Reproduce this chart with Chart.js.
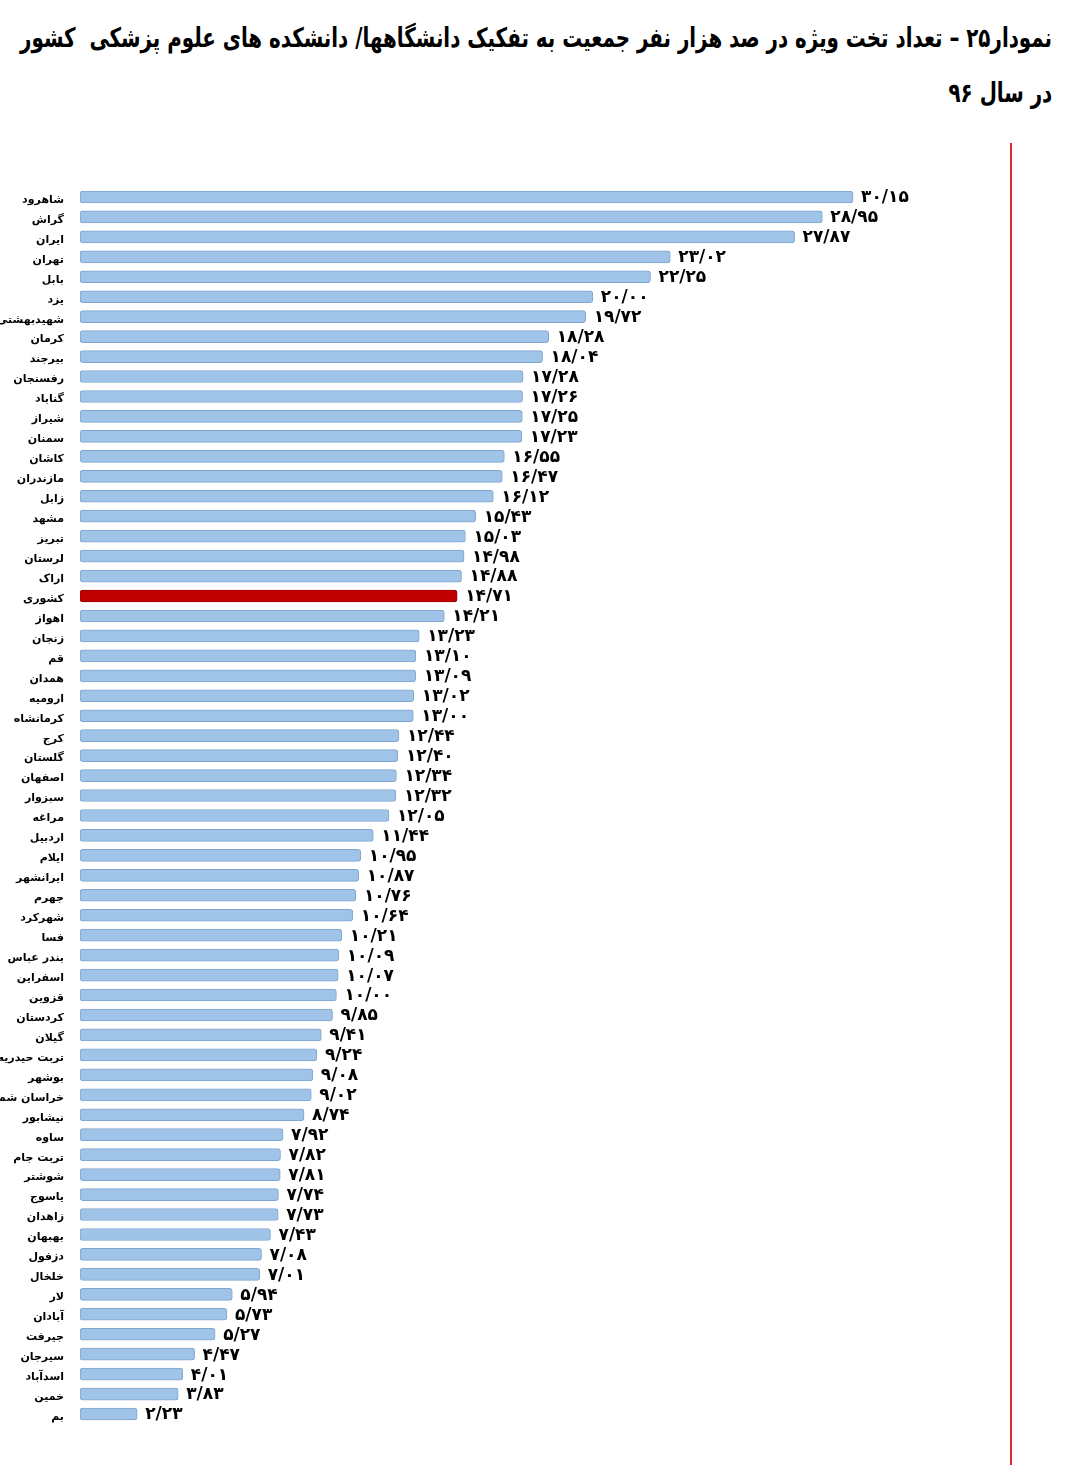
<!DOCTYPE html>
<html lang="fa">
<head>
<meta charset="utf-8">
<script src="https://cdn.jsdelivr.net/npm/chart.js@4/dist/chart.umd.min.js"></script>
<style>
  body { margin: 0; background: #fff; }
  #wrap { position: relative; width: 1080px; height: 1474px; overflow: hidden; }
  .title {
    position: absolute; right: 28px; direction: rtl; text-align: right;
    font-family: "DejaVu Sans", sans-serif; font-weight: bold; font-size: 27px;
    color: #000; white-space: pre; transform-origin: right center;
  }
  #t1 { top: 22px; }
  #t2 { top: 77px; }
  #redline { position: absolute; left: 1010px; top: 143px; width: 2px; height: 1322px; background: #e02a2a; }
  #chart { position: absolute; left: 0; top: 0; }
</style>
</head>
<body>
<div id="wrap">
  <div class="title" id="t1">نمودار۲۵ – تعداد تخت ویژه در صد هزار نفر جمعیت به تفکیک دانشگاهها/ دانشکده های علوم پزشکی  کشور</div>
  <div class="title" id="t2">در سال ۹۶</div>
  <div id="redline"></div>
  <canvas id="chart" width="1080" height="1474"></canvas>
</div>
<script>
// universities / faculties, top to bottom
const universities = [
  "شاهرود", "گراش", "ایران", "تهران", "بابل", "یزد", "شهیدبهشتی", "کرمان", "بیرجند", "رفسنجان",
  "گناباد", "شیراز", "سمنان", "کاشان", "مازندران", "زابل", "مشهد", "تبریز", "لرستان", "اراک",
  "کشوری", "اهواز", "زنجان", "قم", "همدان", "ارومیه", "کرمانشاه", "کرج", "گلستان", "اصفهان",
  "سبزوار", "مراغه", "اردبیل", "ایلام", "ایرانشهر", "جهرم", "شهرکرد", "فسا", "بندر عباس", "اسفراین",
  "قزوین", "کردستان", "گیلان", "تربت حیدریه", "بوشهر", "خراسان شمالی", "نیشابور", "ساوه", "تربت جام", "شوشتر",
  "یاسوج", "زاهدان", "بهبهان", "دزفول", "خلخال", "لار", "آبادان", "جیرفت", "سیرجان", "اسدآباد",
  "خمین", "بم"
];

// special beds per 100,000 population
const bedsPer100k = [
  30.15, 28.95, 27.87, 23.02, 22.25, 20.00, 19.72, 18.28, 18.04, 17.28,
  17.26, 17.25, 17.23, 16.55, 16.47, 16.12, 15.43, 15.03, 14.98, 14.88,
  14.71, 14.21, 13.23, 13.10, 13.09, 13.02, 13.00, 12.44, 12.40, 12.34,
  12.32, 12.05, 11.44, 10.95, 10.87, 10.76, 10.64, 10.21, 10.09, 10.07,
  10.00, 9.85, 9.41, 9.24, 9.08, 9.02, 8.74, 7.92, 7.82, 7.81,
  7.74, 7.73, 7.43, 7.08, 7.01, 5.94, 5.73, 5.27, 4.47, 4.01,
  3.83, 2.23
];

const nationalLabel = "کشوری";

// squeeze the title to the width it has in the original
const t1 = document.querySelector("#t1");
const squeeze = Math.min(1, 1032 / t1.getBoundingClientRect().width);
document.querySelectorAll(".title").forEach((el) => {
  el.style.transform = `scaleX(${squeeze})`;
});

const faDigits = "۰۱۲۳۴۵۶۷۸۹";
const toFa = (v) =>
  v.toFixed(2).replace(".", "/").replace(/[0-9]/g, (d) => faDigits[d]);

const fills = universities.map((u) => (u === nationalLabel ? "#c00000" : "#9fc4e8"));
const borders = universities.map((u) => (u === nationalLabel ? "#a00000" : "#7fa6cf"));

// value labels right of each bar
const valueLabels = {
  id: "valueLabels",
  afterDatasetsDraw(chart) {
    const ctx = chart.ctx;
    const meta = chart.getDatasetMeta(0);
    ctx.save();
    ctx.font = "bold 17px 'DejaVu Sans', sans-serif";
    ctx.fillStyle = "#000";
    ctx.textAlign = "left";
    ctx.textBaseline = "middle";
    ctx.direction = "ltr";
    meta.data.forEach((bar, i) => {
      ctx.fillText(toFa(bedsPer100k[i]), bar.x + 8, bar.y + 1);
    });
    ctx.restore();
  },
};

const chart = new Chart(document.querySelector("#chart"), {
  type: "bar",
  data: {
    labels: universities,
    datasets: [
      {
        data: bedsPer100k,
        backgroundColor: fills,
        borderColor: borders,
        borderWidth: 1,
        borderRadius: 3,
        borderSkipped: false,
        barThickness: 12,
      },
    ],
  },
  options: {
    indexAxis: "y",
    responsive: false,
    animation: false,
    layout: { padding: { top: 187, bottom: 50, left: 0, right: 0 } },
    plugins: {
      legend: { display: false },
      tooltip: { enabled: false },
    },
    scales: {
      x: {
        min: 0,
        max: 39,
        display: false,
      },
      y: {
        grid: { display: false, drawTicks: false },
        border: { display: false },
        afterFit: (scale) => {
          scale.width = 80;
        },
        ticks: {
          autoSkip: false,
          padding: 16,
          labelOffset: 3,
          color: "#000",
          font: { family: "'DejaVu Sans', sans-serif", size: 11, weight: "bold" },
        },
      },
    },
  },
  plugins: [valueLabels],
});
</script>
</body>
</html>
